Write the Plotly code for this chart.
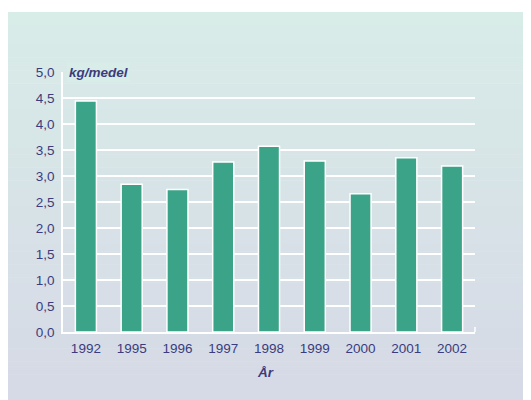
import plotly.graph_objects as go

# Data
years = ["1992", "1995", "1996", "1997", "1998", "1999", "2000", "2001", "2002"]
kg_per_medel = [4.44, 2.84, 2.74, 3.27, 3.57, 3.29, 2.66, 3.35, 3.19]
y_ticks = [0, 0.5, 1.0, 1.5, 2.0, 2.5, 3.0, 3.5, 4.0, 4.5, 5.0]

TEXT = "#3b3c7e"
BAR = "#3aa388"
TOP = (216, 236, 232)     # panel colour at top
BOTTOM = (214, 217, 230)  # panel colour at bottom
FONT = "Liberation Sans, Arial, sans-serif"
FS = 13.5

# the page puts an 8px body margin round the figure
W, H = 531, 400
L, R, T, B = 55, 64, 64, 76
pw, ph = W - L - R, H - T - B


def px_to_paper_x(px):
    return (px - L) / pw


def px_to_paper_y(py):
    return (H - B - py) / ph


fig = go.Figure(go.Bar(
    x=years, y=kg_per_medel,
    marker=dict(color=BAR, line=dict(color="white", width=1.5)),
    width=0.46,
))

# gradient panel background built from thin bands
shapes = []
n = 60
top_px, bot_px = 4, 392
for i in range(n):
    f = i / (n - 1)
    c = tuple(round(TOP[k] + (BOTTOM[k] - TOP[k]) * f) for k in range(3))
    y0 = top_px + (bot_px - top_px) * i / n
    y1 = top_px + (bot_px - top_px) * (i + 1) / n + 0.6
    if i == n - 1:
        y1 = H + 2
    shapes.append(dict(
        type="rect", xref="paper", yref="paper", layer="below",
        x0=px_to_paper_x(-2), x1=px_to_paper_x(W + 2),
        y0=px_to_paper_y(y1), y1=px_to_paper_y(y0),
        fillcolor="rgb(%d,%d,%d)" % c, line=dict(width=0),
    ))
# little upright tick at right end of baseline
shapes.append(dict(type="line", xref="paper", yref="paper",
                   x0=1, x1=1, y0=0, y1=px_to_paper_y(T + ph - 5),
                   line=dict(color="white", width=1.5)))

fig.update_layout(
    width=W, height=H,
    margin=dict(l=L, r=R, t=T, b=B, pad=0),
    paper_bgcolor="white",
    plot_bgcolor="rgba(0,0,0,0)",
    separators=", ",
    showlegend=False,
    font=dict(family=FONT, color=TEXT, size=FS),
    shapes=shapes,
    annotations=[
        dict(text="<b><i>kg/medel</i></b>", xref="paper", yref="paper",
             x=px_to_paper_x(58), y=1, xanchor="left", yanchor="middle",
             showarrow=False, bgcolor="rgb(216,236,232)", borderpad=2,
             font=dict(size=FS, color=TEXT, family=FONT)),
        dict(text="<b><i>År</i></b>", xref="paper", yref="paper",
             x=px_to_paper_x(257), y=px_to_paper_y(365),
             xanchor="center", yanchor="middle", showarrow=False,
             font=dict(size=FS, color=TEXT, family=FONT)),
    ],
)

fig.update_xaxes(
    showgrid=False, zeroline=False,
    showline=True, linecolor="white", linewidth=1.5,
    ticks="outside", ticklen=3, tickcolor="rgba(0,0,0,0)",
    tickfont=dict(size=FS, color=TEXT, family=FONT),
)
fig.update_yaxes(
    range=[0, 5], tickvals=y_ticks, tickformat=".1f",
    showgrid=True, gridcolor="white", gridwidth=1.5,
    zeroline=False,
    showline=True, linecolor="white", linewidth=1.5,
    ticks="outside", ticklen=4, tickcolor="rgba(0,0,0,0)",
    tickfont=dict(size=FS, color=TEXT, family=FONT),
)

fig.write_html("out.html")
